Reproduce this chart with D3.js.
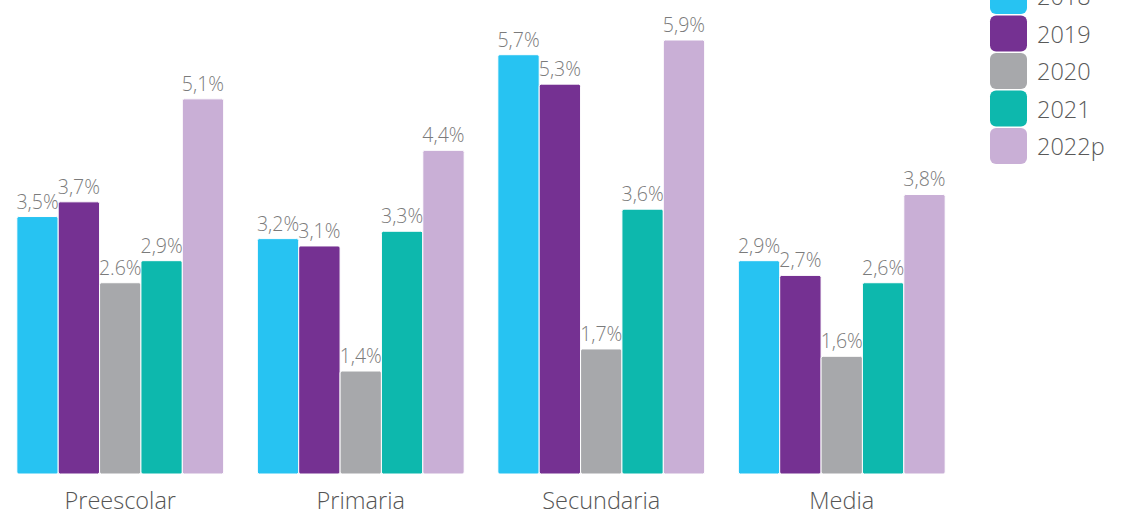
<!DOCTYPE html>
<meta charset="utf-8">
<style>
    body { margin: 0; background: #fff; }
    .val { font: 300 19.5px "Open Sans", sans-serif; fill: #7b7b7b; }
    .cat { font: 300 23.5px "Open Sans", sans-serif; fill: #555; }
    .leg { font: 300 23.5px "Open Sans", sans-serif; fill: #595959; }
</style>
<body>
<script src="https://cdn.jsdelivr.net/npm/d3@7"></script>
<script>
    var categories = ["Preescolar", "Primaria", "Secundaria", "Media"];
    var years = ["2018", "2019", "2020", "2021", "2022p"];
    var values = [
        [3.5, 3.7, 2.6, 2.9, 5.1],
        [3.2, 3.1, 1.4, 3.3, 4.4],
        [5.7, 5.3, 1.7, 3.6, 5.9],
        [2.9, 2.7, 1.6, 2.6, 3.8]
    ];
    var labels = [
        ["3,5%", "3,7%", "2.6%", "2,9%", "5,1%"],
        ["3,2%", "3,1%", "1,4%", "3,3%", "4,4%"],
        ["5,7%", "5,3%", "1,7%", "3,6%", "5,9%"],
        ["2,9%", "2,7%", "1,6%", "2,6%", "3,8%"]
    ];
    var colors = ["#27c3f2", "#753192", "#a7a8ab", "#0db8ad", "#c9afd6"];

    var width = 1121, height = 514;

    var svg = d3.select("body").append("svg")
        .attr("width", width)
        .attr("height", height);

    var x0 = d3.scaleBand().domain(categories).range([0, 962])
        .paddingInner(0.14).paddingOuter(0.07);
    var x1 = d3.scaleBand().domain(years).range([0, x0.bandwidth()]);
    var y = d3.scaleLinear().domain([0, 5.9]).range([474, 40]);
    var color = d3.scaleOrdinal().domain(years).range(colors);

    function rows(d, i) {
        return years.map(function (yr, j) { return { year: yr, v: values[i][j], lab: labels[i][j] }; });
    }

    var groups = svg.selectAll(".grp")
        .data(categories)
        .enter().append("g")
        .attr("class", "grp")
        .attr("transform", function (d) { return "translate(" + x0(d) + ",0)"; });

    groups.selectAll("rect")
        .data(rows)
        .enter().append("rect")
        .attr("x", function (d) { return x1(d.year); })
        .attr("y", function (d) { return y(d.v); })
        .attr("width", x1.bandwidth())
        .attr("height", function (d) { return y(0) - y(d.v); })
        .attr("rx", 2)
        .attr("fill", function (d) { return color(d.year); })
        .attr("stroke", "#fff")
        .attr("stroke-width", 1);

    groups.selectAll(".val")
        .data(rows)
        .enter().append("text")
        .attr("class", "val")
        .attr("x", function (d) { return x1(d.year) + x1.bandwidth() / 2; })
        .attr("y", function (d) { return y(d.v) - 8; })
        .attr("text-anchor", "middle")
        .text(function (d) { return d.lab; });

    // category labels
    svg.selectAll(".cat")
        .data(categories)
        .enter().append("text")
        .attr("class", "cat")
        .attr("x", function (d) { return x0(d) + x0.bandwidth() / 2; })
        .attr("y", 509)
        .attr("text-anchor", "middle")
        .text(function (d) { return d; });

    // legend, top row is cut by the frame
    var legend = svg.selectAll(".legrow")
        .data(years)
        .enter().append("g")
        .attr("class", "legrow")
        .attr("transform", function (d, i) { return "translate(990," + (-22 + i * 37.5) + ")"; });

    legend.append("rect")
        .attr("width", 37)
        .attr("height", 36)
        .attr("rx", 6)
        .attr("fill", function (d) { return color(d); });

    legend.append("text")
        .attr("class", "leg")
        .attr("x", 47)
        .attr("y", 27)
        .text(function (d) { return d; });
</script>
</body>
